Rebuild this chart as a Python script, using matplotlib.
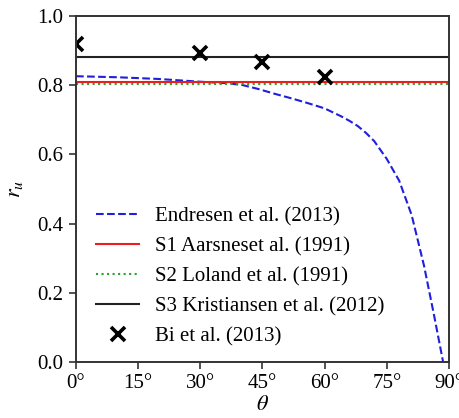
import matplotlib
matplotlib.use("Agg")
import matplotlib.pyplot as plt

plt.rcParams["font.family"] = ["Liberation Serif", "DejaVu Serif"]
plt.rcParams["mathtext.fontset"] = "stix"

# Endresen et al. (2013) curve
endresen_theta = [0, 10, 20, 30, 36, 40, 44, 48, 52, 56, 60, 64, 66, 68, 70, 72, 75, 78, 81, 84, 86.5, 88.6]
endresen_r = [0.826, 0.823, 0.818, 0.810, 0.806, 0.801, 0.789, 0.775, 0.762, 0.748, 0.733,
              0.710, 0.697, 0.682, 0.662, 0.638, 0.587, 0.524, 0.425, 0.278, 0.130, 0.0]

# constant reduction factors
s1_aarsneset = 0.810
s2_loland = 0.803
s3_kristiansen = 0.881

# Bi et al. (2013) points
bi_theta = [0, 30, 45, 60]
bi_r = [0.92, 0.892, 0.868, 0.824]

xticks = [0, 15, 30, 45, 60, 75, 90]
xtick_labels = ["0°", "15°", "30°", "45°", "60°", "75°", "90°"]
yticks = [0.0, 0.2, 0.4, 0.6, 0.8, 1.0]

fig = plt.figure(figsize=(4.59, 4.18), dpi=100)
ax = fig.add_axes([0.1656, 0.134, 0.8124, 0.8277])

ax.plot(endresen_theta, endresen_r, color="#1f1fdc", ls="--", lw=1.5, label="Endresen et al. (2013)")
ax.axhline(s1_aarsneset, color="#ee1c1c", lw=1.5, label="S1 Aarsneset al. (1991)")
ax.axhline(s2_loland, color="#2ca02c", ls=":", lw=1.5, label="S2 Loland et al. (1991)")
ax.axhline(s3_kristiansen, color="#222222", lw=1.5, label="S3 Kristiansen et al. (2012)")
ax.plot(bi_theta, bi_r, ls="none", marker="x", color="black", ms=9.5, mew=2.6, label="Bi et al. (2013)")

ax.set_xlim(0, 90)
ax.set_ylim(0, 1.0)
ax.set_xticks(xticks)
ax.set_xticklabels(xtick_labels)
ax.set_yticks(yticks)
ax.set_yticklabels([f"{v:.1f}" for v in yticks])
ax.tick_params(labelsize=15, width=1.2, length=5, color="#333333", pad=4)
for sp in ax.spines.values():
    sp.set_linewidth(1.4)
    sp.set_color("#333333")

ax.set_xlabel(r"$\theta$", fontsize=16, labelpad=2)
ax.set_ylabel(r"$r_u$", fontsize=16, labelpad=9)

ax.legend(loc="lower left", frameon=False, fontsize=15, handlelength=2.05,
          bbox_to_anchor=(0.015, 0.003), labelspacing=0.5, handletextpad=0.75,
          borderaxespad=0.3)

fig.savefig("out.png", dpi=100)
